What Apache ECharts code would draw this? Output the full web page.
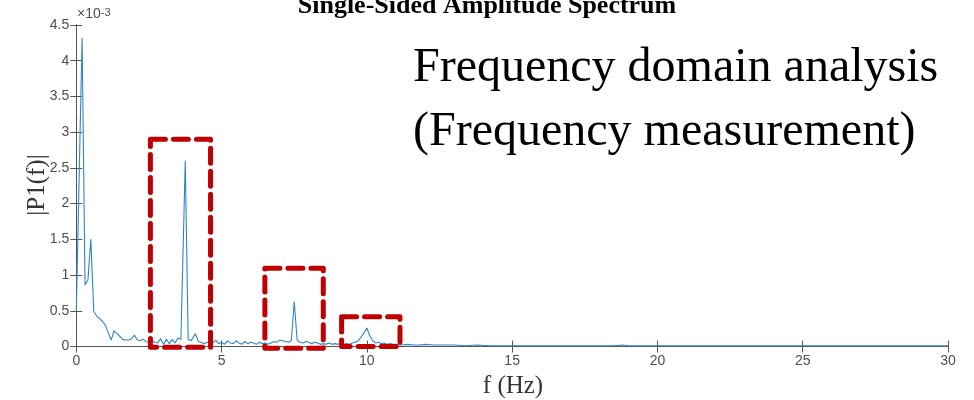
<!DOCTYPE html>
<html>
<head>
<meta charset="utf-8">
<script src="https://cdn.jsdelivr.net/npm/echarts@6/dist/echarts.min.js"></script>
<style>html,body{margin:0;padding:0;background:#fff}#c{width:974px;height:400px}</style>
</head>
<body>
<div id="c"></div>
<script>
// Frequency (Hz)
const freq = [0,0.2,0.3,0.4,0.5,0.6,0.7,0.8,0.9,1.0,1.1,1.2,1.3,1.4,1.5,1.6,1.7,1.8,1.9,2.0,2.1,2.2,2.3,2.4,2.5,2.6,2.7,2.8,2.9,3.0,3.1,3.2,3.3,3.4,3.5,3.6,3.75,3.85,3.95,4.1,4.2,4.3,4.4,4.5,4.6,4.7,4.8,4.9,5.0,5.1,5.2,5.3,5.4,5.5,5.6,5.7,5.8,5.9,6.0,6.1,6.2,6.3,6.4,6.5,6.6,6.7,6.8,6.9,7.0,7.1,7.2,7.3,7.4,7.5,7.6,7.7,7.8,7.9,8.0,8.1,8.2,8.3,8.4,8.5,8.6,8.7,8.8,8.9,9.0,9.1,9.2,9.3,9.4,9.5,9.6,9.7,9.8,9.9,10.0,10.1,10.2,10.3,10.4,10.5,10.6,10.7,10.8,10.9,11.0,11.2,11.4,11.6,11.8,12.0,12.3,12.6,13.0,13.4,13.8,14.2,14.6,15.0,15.5,16.0,16.5,17.0,17.5,18.0,18.5,18.8,19.0,19.5,20.0,20.5,21.0,22.0,23.0,24.0,25.0,26.0,27.0,28.0,29.0,30.0];
// |P1(f)| in units of 1e-3
const amp = [0.5,4.32,0.86,0.93,1.5,0.49,0.43,0.39,0.35,0.3,0.19,0.09,0.22,0.18,0.14,0.1,0.09,0.09,0.11,0.16,0.09,0.08,0.1,0.07,0.06,0.09,0.06,0.05,0.11,0.03,0.1,0.04,0.1,0.05,0.12,0.1,2.6,0.1,0.08,0.18,0.07,0.06,0.04,0.06,0.04,0.05,0.09,0.04,0.06,0.03,0.08,0.05,0.04,0.08,0.05,0.03,0.07,0.04,0.06,0.05,0.03,0.06,0.04,0.05,0.03,0.05,0.07,0.06,0.09,0.08,0.07,0.06,0.08,0.63,0.09,0.06,0.05,0.07,0.06,0.04,0.06,0.05,0.03,0.04,0.03,0.05,0.03,0.04,0.03,0.05,0.03,0.04,0.03,0.05,0.06,0.08,0.13,0.19,0.26,0.15,0.08,0.05,0.06,0.04,0.05,0.03,0.04,0.03,0.03,0.02,0.03,0.02,0.02,0.03,0.02,0.02,0.02,0.01,0.02,0.01,0.01,0.01,0.01,0.01,0.01,0.01,0.01,0.01,0.01,0.02,0.01,0.01,0.01,0.01,0.01,0.01,0.01,0.01,0.01,0.01,0.01,0.01,0.01,0.01];
// Axis ticks
const xTicks = [0,5,10,15,20,25,30];
const yTicks = [0,0.5,1,1.5,2,2.5,3,3.5,4,4.5];
// Highlight boxes: [fMin, fMax, ampMin, ampMax]
const boxes = [[2.55,4.62,-0.01,2.90],[6.49,8.50,-0.025,1.095],[9.13,11.14,0.0,0.417]];
const titleText = 'Single-Sided Amplitude Spectrum';
const noteLines = ['Frequency domain analysis','(Frequency measurement)'];

const chart = echarts.init(document.getElementById('c'), null, {renderer:'canvas'});
const axisColor = '#555';
const labelFont = {color:'#4d4d4d', fontFamily:'Liberation Sans, Arial, sans-serif', fontSize:14};
const option = {
  animation:false,
  backgroundColor:'#fff',
  grid:{left:76.3, right:26, top:25, bottom:53.5, containLabel:false},
  xAxis:[
    {type:'value', min:xTicks[0], max:xTicks[xTicks.length-1], interval:5, position:'bottom',
     axisLine:{lineStyle:{color:axisColor,width:1}}, axisTick:{inside:true,length:6,lineStyle:{color:axisColor}},
     axisLabel:Object.assign({margin:8}, labelFont), splitLine:{show:false}},
    {type:'value', min:xTicks[0], max:xTicks[xTicks.length-1], interval:5, position:'top',
     axisLine:{show:true,lineStyle:{color:axisColor,width:1}}, axisTick:{inside:true,length:6,lineStyle:{color:axisColor}},
     axisLabel:{show:false}, splitLine:{show:false}}
  ],
  yAxis:[
    {type:'value', min:yTicks[0], max:yTicks[yTicks.length-1], interval:0.5, position:'left',
     axisLine:{show:true,lineStyle:{color:axisColor,width:1}}, axisTick:{show:true,inside:true,length:6,lineStyle:{color:axisColor}},
     axisLabel:Object.assign({margin:7}, labelFont), splitLine:{show:false}},
    {type:'value', min:yTicks[0], max:yTicks[yTicks.length-1], interval:0.5, position:'right',
     axisLine:{show:true,lineStyle:{color:axisColor,width:1}}, axisTick:{show:true,inside:true,length:6,lineStyle:{color:axisColor}},
     axisLabel:{show:false}, splitLine:{show:false}}
  ],
  series:[{
    type:'line', xAxisIndex:0, yAxisIndex:0,
    data: freq.map((f,i)=>[f, amp[i]]),
    showSymbol:false, symbol:'none',
    lineStyle:{color:'#2e86c5', width:1.1},
    clip:true, z:3
  }]
};
chart.setOption(option);

const g = [];
g.push({type:'text', left:'center', top:-7, z:10,
  style:{text:titleText, font:'bold 26px "Liberation Serif", "Times New Roman", serif', fill:'#000'}});
g.push({type:'text', x:77, y:7, z:10,
  style:{text:'{a|×10}{b|-3}', rich:{a:{fontSize:14,fontFamily:'Liberation Sans, Arial',fill:'#4d4d4d',verticalAlign:'bottom'},b:{fontSize:11,fontFamily:'Liberation Sans, Arial',fill:'#4d4d4d',verticalAlign:'top'}}, fill:'#4d4d4d'}});
g.push({type:'text', x:413, y:68, z:10,
  style:{text:noteLines[0], font:'48px "Liberation Serif", "Times New Roman", serif', fill:'#000', textVerticalAlign:'middle', verticalAlign:'middle'}});
g.push({type:'text', x:413, y:132, z:10,
  style:{text:noteLines[1], font:'48px "Liberation Serif", "Times New Roman", serif', fill:'#000', textVerticalAlign:'middle', verticalAlign:'middle'}});
g.push({type:'text', x:513, y:386, z:10,
  style:{text:'f (Hz)', font:'25px "Liberation Serif", "Times New Roman", serif', fill:'#333', align:'center', verticalAlign:'middle', textAlign:'center', textVerticalAlign:'middle'}});
g.push({type:'text', x:37, y:185, rotation:Math.PI/2, z:10,
  style:{text:'|P1(f)|', font:'25px "Liberation Serif", "Times New Roman", serif', fill:'#333', align:'center', verticalAlign:'middle', textAlign:'center', textVerticalAlign:'middle'}});
boxes.forEach((b,i)=>{
  const p1 = chart.convertToPixel({xAxisIndex:0,yAxisIndex:0},[b[0],b[3]]);
  const p2 = chart.convertToPixel({xAxisIndex:0,yAxisIndex:0},[b[1],b[2]]);
  g.push({type:'rect', id:'box'+i, z:20,
    shape:{x:p1[0], y:p1[1], width:p2[0]-p1[0], height:p2[1]-p1[1]},
    style:{fill:'none', stroke:'#c00000', lineWidth:5, lineDash:[15,8], lineJoin:'round', lineCap:'round'}});
});
chart.setOption({graphic:g});
</script>
</body>
</html>
